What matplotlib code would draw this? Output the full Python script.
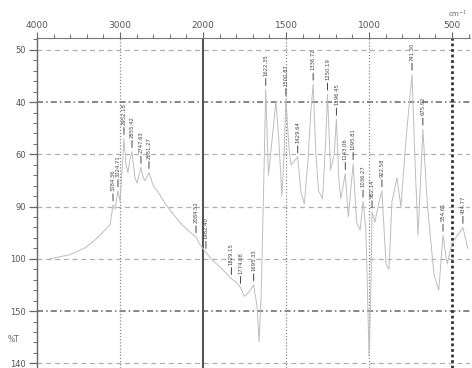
import numpy as np
import matplotlib.pyplot as plt
from matplotlib.ticker import FixedLocator

# split wavenumber scale: each break is one grid column wide
x_breaks = np.array([4000, 3000, 2000, 1500, 1000, 500])
x_labels = ["4000", "3000", "2000", "1500", "1000", "500"]
x_minor = [3800, 3600, 3400, 3200, 2800, 2600, 2400, 2200,
           1900, 1800, 1700, 1600, 1400, 1300, 1200, 1100,
           900, 800, 700, 600, 400]

y_levels = [0, 1, 2, 3, 4, 5, 6]
y_labels = ["50", "40", "60", "90", "100", "150", "140"]

# spectrum trace (wavenumber, level from the top grid line)
spec_wn = [3850, 3783, 3602, 3422, 3301, 3181, 3120, 3084.36, 3060, 3024.71,
           3000, 2976, 2952.18, 2928, 2904, 2880, 2855.42, 2820, 2795,
           2747.63, 2720, 2699, 2651.27, 2600, 2530, 2458, 2277, 2150,
           2084.52, 2040, 1982.40, 1945, 1884, 1829.15, 1800, 1774.08,
           1750, 1720, 1695.33, 1675, 1662, 1650, 1636, 1622.35, 1606,
           1585, 1561, 1543, 1525, 1512, 1500.87, 1482, 1470, 1429.64,
           1411, 1390, 1370, 1351, 1336.72, 1320, 1304, 1280, 1262,
           1250.19, 1232, 1210, 1196.45, 1182, 1170, 1143.06, 1125,
           1095.81, 1075, 1054, 1036.27, 1020, 1012, 1000, 988, 982.14,
           965, 946, 922.58, 898, 880, 862, 832, 808, 777, 741.30, 720,
           705, 687, 675.92, 650, 630, 609, 580, 554.61, 530, 500,
           434.77, 405]
spec_lvl = [4.00, 3.98, 3.92, 3.79, 3.64, 3.45, 3.35, 2.97, 3.05, 2.70,
            2.90, 2.30, 1.70, 2.20, 2.35, 2.10, 1.95, 2.45, 2.55,
            2.25, 2.45, 2.50, 2.35, 2.60, 2.75, 2.94, 3.31, 3.50,
            3.58, 3.72, 3.88, 4.02, 4.20, 4.38, 4.45, 4.55,
            4.72, 4.62, 4.50, 4.90, 5.59, 4.70, 2.80, 0.76, 2.40,
            1.75, 0.98, 1.75, 2.80, 2.00, 0.95, 1.90, 2.20, 2.05,
            2.70, 2.95, 2.20, 1.20, 0.66, 2.00, 2.70, 2.85, 1.80,
            0.85, 2.30, 2.00, 1.33, 2.50, 2.85, 2.37, 3.20,
            2.18, 3.30, 3.45, 2.90, 3.40, 4.30, 5.87, 4.40, 3.10,
            3.30, 3.00, 2.70, 4.10, 4.20, 2.90, 2.45, 3.00, 1.70, 0.47, 2.40,
            3.55, 2.30, 1.52, 2.90, 3.60, 4.30, 4.60, 3.55, 4.10, 3.70,
            3.40, 3.80]

peak_wn = [3084.36, 3024.71, 2952.18, 2855.42, 2747.63, 2651.27, 2084.52,
           1982.40, 1829.15, 1774.08, 1695.33, 1622.35, 1500.87, 1429.64,
           1336.72, 1250.19, 1196.45, 1143.06, 1095.81, 1036.27, 982.14,
           922.58, 741.30, 675.92, 554.61, 434.77]

pos = np.arange(len(x_breaks), dtype=float)


def fwd(w):
    w = np.asarray(w, dtype=float)
    p = np.interp(-w, -x_breaks, pos)
    p = np.where(w < x_breaks[-1], pos[-1] + (x_breaks[-1] - w) / 500.0, p)
    p = np.where(w > x_breaks[0], (x_breaks[0] - w) / 1000.0, p)
    return -p


def inv(t):
    p = -np.asarray(t, dtype=float)
    w = np.interp(p, pos, x_breaks)
    w = np.where(p > pos[-1], x_breaks[-1] - (p - pos[-1]) * 500.0, w)
    w = np.where(p < 0, x_breaks[0] - p * 1000.0, w)
    return w


fig = plt.figure(figsize=(4.72, 3.68), dpi=100)
ax = fig.add_axes([37 / 472, 0.0, 433 / 472, 1 - 38 / 368])
ax.set_xscale('function', functions=(fwd, inv))
ax.set_xlim(4000, 392)
ax.set_ylim(6.09, -0.227)

# grid
for lv in y_levels:
    if lv in (1, 5):
        ax.axhline(lv, color='#666666', lw=1.1, ls=(0, (4, 2, 1, 2)), zorder=1)
    else:
        ax.axhline(lv, color='#b0b0b0', lw=0.9, ls=(0, (4, 3)), zorder=1)
for w in (3000, 1500, 1000):
    ax.axvline(w, color='#888888', lw=0.9, ls=(0, (1, 1.5)), zorder=1)
ax.axvline(2000, color='#555555', lw=1.5, zorder=1)
ax.axvline(500, color='#333333', lw=2.0, ls=(0, (1, 1)), zorder=1)

ax.plot(spec_wn, spec_lvl, color='#bdbdbd', lw=0.7, zorder=2)

# peak labels
for w in peak_wn:
    lv = spec_lvl[spec_wn.index(w)]
    ax.annotate(f"{w:.2f}", xy=(w, lv - 0.08), xytext=(0, 7),
                textcoords='offset points', rotation=90, ha='center',
                va='bottom', fontsize=3.8, color='#444444',
                arrowprops=dict(arrowstyle='-', lw=0.7, color='#444444',
                                shrinkA=0, shrinkB=0), zorder=3)

ax.xaxis.tick_top()
ax.xaxis.set_major_locator(FixedLocator(x_breaks))
ax.xaxis.set_minor_locator(FixedLocator(x_minor))
ax.set_xticklabels(x_labels)
ax.set_yticks(y_levels)
ax.set_yticklabels(y_labels)
ax.yaxis.set_minor_locator(FixedLocator(np.arange(-0.2, 6.01, 0.2)))

ax.tick_params(axis='x', which='major', length=4, width=0.8, colors='#666666',
               labelsize=6.5, labelcolor='#555555', pad=2)
ax.tick_params(axis='x', which='minor', length=3, width=0.8, colors='#777777')
ax.tick_params(axis='y', which='major', length=6, width=0.9, colors='#666666',
               labelsize=6, labelcolor='#555555', pad=2)
ax.tick_params(axis='y', which='minor', length=3, width=0.8, colors='#777777')

for side in ('bottom', 'right'):
    ax.spines[side].set_visible(False)
ax.spines['top'].set_color('#777777')
ax.spines['left'].set_color('#666666')
ax.spines['left'].set_linewidth(1.0)

fig.text(458 / 472, 1 - 14 / 368, "cm$^{-1}$", fontsize=5, color='#666666',
         ha='center', va='center')
fig.text(14 / 472, 1 - 340 / 368, "%T", fontsize=5.5, color='#666666',
         ha='center', va='center')

fig.savefig('out.png', dpi=100)
